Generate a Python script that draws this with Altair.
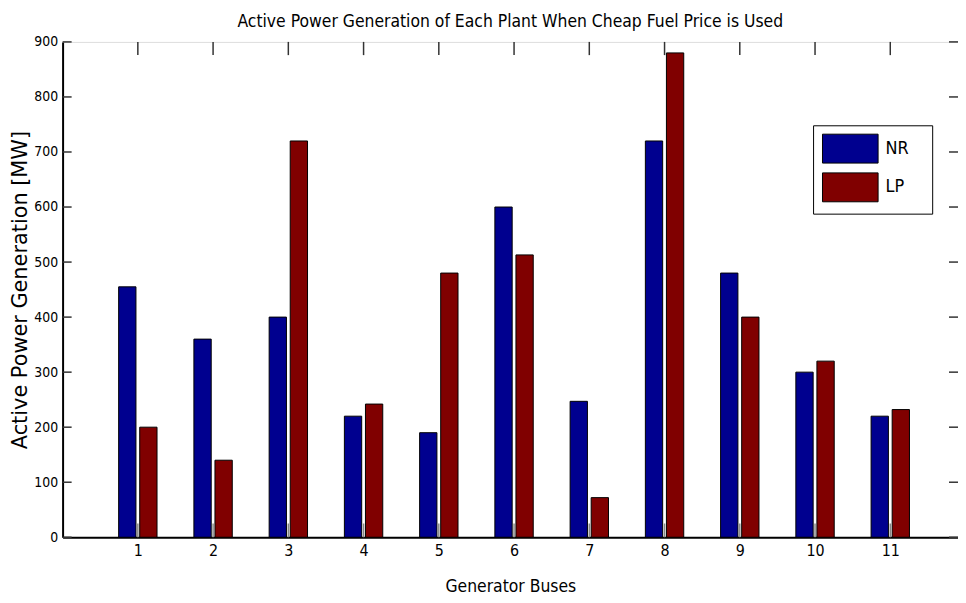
import altair as alt
import pandas as pd

buses = [1, 2, 3, 4, 5, 6, 7, 8, 9, 10, 11]
nr_values = [455, 360, 400, 220, 190, 600, 247, 720, 480, 300, 220]
lp_values = [200, 140, 720, 242, 480, 513, 72, 880, 400, 320, 232]
series = ["NR", "LP"]
colors = ["#00008F", "#800000"]
y_ticks = [0, 100, 200, 300, 400, 500, 600, 700, 800, 900]

NARROW = "Liberation Sans Narrow, Arial Narrow, DejaVu Sans Condensed, sans-serif"
WIDE = "DejaVu Sans, Liberation Sans, sans-serif"

XMAX = 11.9
YMAX = 900

rows = []
for b, nr, lp in zip(buses, nr_values, lp_values):
    rows.append({"bus": b, "series": "NR", "value": nr})
    rows.append({"bus": b, "series": "LP", "value": lp})
df = pd.DataFrame(rows)

xscale = alt.Scale(domain=[0, XMAX], nice=False, zero=False)
yscale = alt.Scale(domain=[0, YMAX], nice=False)

bars = alt.Chart(df).transform_calculate(
    x0="datum.series == 'NR' ? datum.bus - 0.255 : datum.bus + 0.025",
    x1="datum.series == 'NR' ? datum.bus - 0.025 : datum.bus + 0.255",
).mark_bar(stroke="black", strokeWidth=1).encode(
    x=alt.X("x0:Q", scale=xscale,
            axis=alt.Axis(values=buses, format="d", title="Generator Buses", ticks=False,
                          labelFont=NARROW, labelFontSize=16, labelColor="black",
                          labelPadding=5, titleFont=NARROW, titleFontSize=17.5,
                          titleFontWeight="normal", titleColor="black", titlePadding=20,
                          domain=True, domainColor="black", domainWidth=2, grid=False,
                          labelFlush=False)),
    x2="x1:Q",
    y=alt.Y("value:Q", scale=yscale,
            axis=alt.Axis(values=y_ticks, title="Active Power Generation [MW]", ticks=False,
                          labelFont=NARROW, labelFontSize=14, labelColor="black",
                          labelPadding=5, titleFont=WIDE, titleFontSize=21,
                          titleFontWeight="normal", titleColor="black", titlePadding=3,
                          domain=True, domainColor="black", domainWidth=2, grid=False,
                          labelFlush=False)),
    y2=alt.datum(0),
    color=alt.Color("series:N", scale=alt.Scale(domain=series, range=colors),
                    legend=alt.Legend(title=".", titleOrient="right", titleColor="white",
                                      titleFontSize=8, titlePadding=12,
                                      orient="none", legendX=756, legendY=84,
                                      symbolType="M-2,-1.04H2V1.04H-2Z", symbolSize=784,
                                      symbolOffset=14,
                                      symbolStrokeColor="black", symbolStrokeWidth=1,
                                      symbolOpacity=1,
                                      labelFont=NARROW, labelFontSize=18, labelColor="black",
                                      labelOffset=21, rowPadding=4, padding=9,
                                      strokeColor="black", fillColor="white",
                                      labelLimit=300)),
)

# inward tick marks (MATLAB style)
bt = pd.DataFrame({"bus": buses, "y0": [0] * len(buses), "y1": [25] * len(buses)})
bottom_ticks = alt.Chart(bt).mark_rule(color="#888888", strokeWidth=1.5).encode(
    x=alt.X("bus:Q", scale=xscale), y=alt.Y("y0:Q", scale=yscale), y2="y1:Q")
tt = pd.DataFrame({"bus": buses, "y0": [YMAX] * len(buses), "y1": [YMAX - 24] * len(buses)})
top_ticks = alt.Chart(tt).mark_rule(color="#333333", strokeWidth=1.5).encode(
    x=alt.X("bus:Q", scale=xscale), y=alt.Y("y0:Q", scale=yscale), y2="y1:Q")
lt = pd.DataFrame({"v": y_ticks, "x0": [0] * len(y_ticks), "x1": [0.12] * len(y_ticks)})
left_ticks = alt.Chart(lt).mark_rule(color="#333333", strokeWidth=1.5).encode(
    y=alt.Y("v:Q", scale=yscale), x=alt.X("x0:Q", scale=xscale), x2="x1:Q")
rt = pd.DataFrame({"v": y_ticks, "x0": [XMAX] * len(y_ticks), "x1": [XMAX - 0.12] * len(y_ticks)})
right_ticks = alt.Chart(rt).mark_rule(color="#333333", strokeWidth=1.5).encode(
    y=alt.Y("v:Q", scale=yscale), x=alt.X("x0:Q", scale=xscale), x2="x1:Q")

chart = alt.layer(bars, bottom_ticks, top_ticks, left_ticks, right_ticks).properties(
    width=902, height=499,
    title=alt.Title("Active Power Generation of Each Plant When Cheap Fuel Price is Used",
                    font=NARROW, fontSize=17.5, fontWeight="normal", color="black",
                    anchor="middle", offset=5),
    autosize=alt.AutoSizeParams(type="none"),
    padding={"left": 55, "top": 32, "right": 0, "bottom": 56},
).configure_view(stroke="black", strokeWidth=1.5).configure(background="white")

chart.save("out.html", embed_options={"renderer": "svg", "actions": False})
